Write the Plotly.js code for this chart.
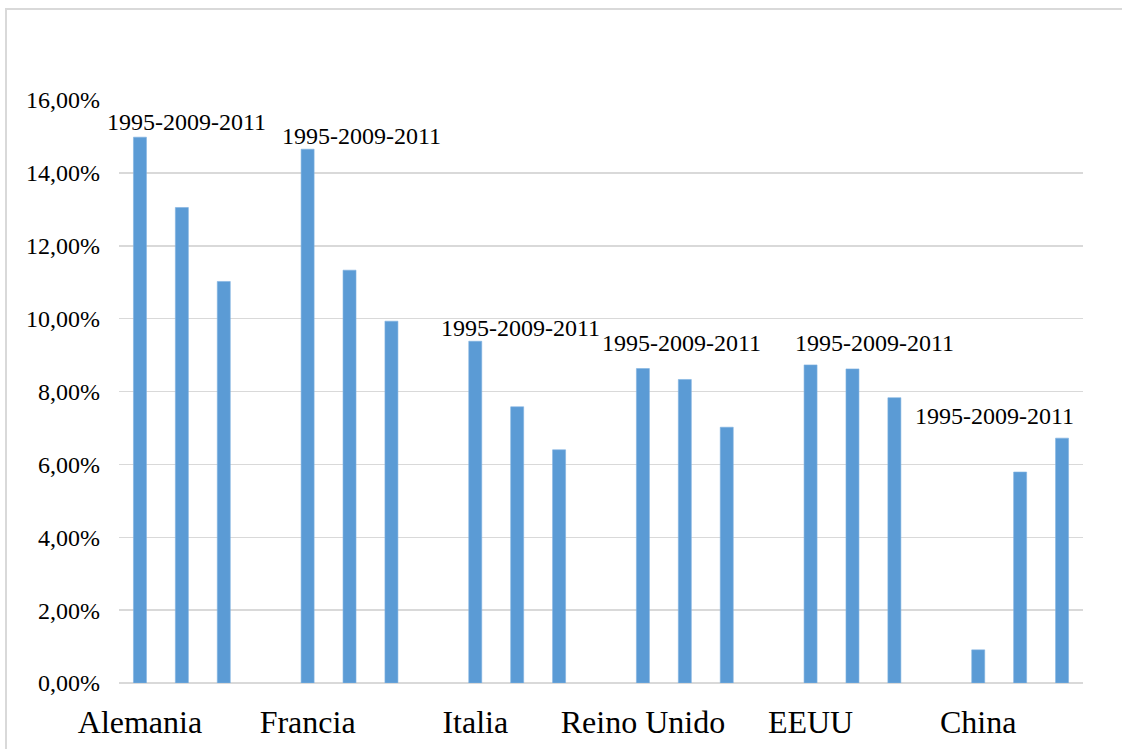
<!DOCTYPE html>
<html>
<head>
<meta charset="utf-8">
<script src="https://cdn.plot.ly/plotly-3.0.1.min.js"></script>
<style>
  html, body { margin: 0; padding: 0; background: #ffffff; }
  #frame { position: absolute; left: 5px; top: 8px; width: 1200px; height: 800px;
           border-top: 2px solid #d9d9d9; border-left: 2px solid #d9d9d9; box-sizing: border-box; }
  #chart { position: absolute; left: 0; top: 0; width: 1122px; height: 749px; }
</style>
</head>
<body>
<div id="frame"></div>
<div id="chart"></div>
<script>
// Data
var countries = ["Alemania", "Francia", "Italia", "Reino Unido", "EEUU", "China"];
var v1995 = [0.1498, 0.1465, 0.0938, 0.0863, 0.0873, 0.0091];
var v2009 = [0.1305, 0.1133, 0.0758, 0.0833, 0.0862, 0.0579];
var v2011 = [0.1102, 0.0993, 0.0640, 0.0702, 0.0783, 0.0672];
var yearLabel = "1995-2009-2011";

// Layout helpers (positions of the year labels relative to each group)
var slotsPerGroup = 4;
var labelDx = [1.12, 1.29, 1.09, 0.93, 1.52, 0.38];
var labelY = [0.1540, 0.1500, 0.0975, 0.0932, 0.0932, 0.0733];

var SERIF = "'Liberation Serif'";

var xs = [], ys = [];
countries.forEach(function (c, g) {
  [v1995[g], v2009[g], v2011[g]].forEach(function (v, k) {
    xs.push(g * slotsPerGroup + k);
    ys.push(v);
  });
});

var trace = {
  type: "bar",
  x: xs,
  y: ys,
  width: 0.31,
  marker: { color: "#5b9bd5", line: { color: "#7fb1e0", width: 0.6 } },
  hoverinfo: "x+y"
};

var annotations = countries.map(function (c, g) {
  return {
    x: g * slotsPerGroup + labelDx[g],
    y: labelY[g],
    xref: "x", yref: "y",
    text: yearLabel,
    showarrow: false,
    xanchor: "center", yanchor: "middle",
    font: { family: SERIF, size: 24, color: "#000000" }
  };
});

var layout = {
  width: 1122,
  height: 749,
  margin: { l: 119, r: 39, t: 100, b: 66, pad: 0 },
  paper_bgcolor: "rgba(0,0,0,0)",
  plot_bgcolor: "rgba(0,0,0,0)",
  separators: ",.",
  showlegend: false,
  bargap: 0,
  font: { family: SERIF, color: "#000000" },
  xaxis: {
    range: [-0.5, 22.5],
    tickmode: "array",
    tickvals: countries.map(function (c, g) { return g * slotsPerGroup; }),
    ticktext: countries,
    showgrid: false,
    zeroline: false,
    showline: false,
    ticks: "",
    ticklabelstandoff: 17,
    tickfont: { family: SERIF, size: 32, color: "#000000" },
    fixedrange: true
  },
  yaxis: {
    range: [0, 0.16],
    tickmode: "linear",
    tick0: 0,
    dtick: 0.02,
    tickformat: ".2%",
    showgrid: true,
    gridcolor: "#d9d9d9",
    gridwidth: 1.5,
    zeroline: true,
    zerolinecolor: "#d9d9d9",
    zerolinewidth: 1.5,
    showline: false,
    ticks: "",
    ticklabelstandoff: 18,
    tickfont: { family: SERIF, size: 24, color: "#000000" },
    fixedrange: true
  },
  annotations: annotations
};

Plotly.newPlot("chart", [trace], layout, { displayModeBar: false, staticPlot: true });
</script>
</body>
</html>
